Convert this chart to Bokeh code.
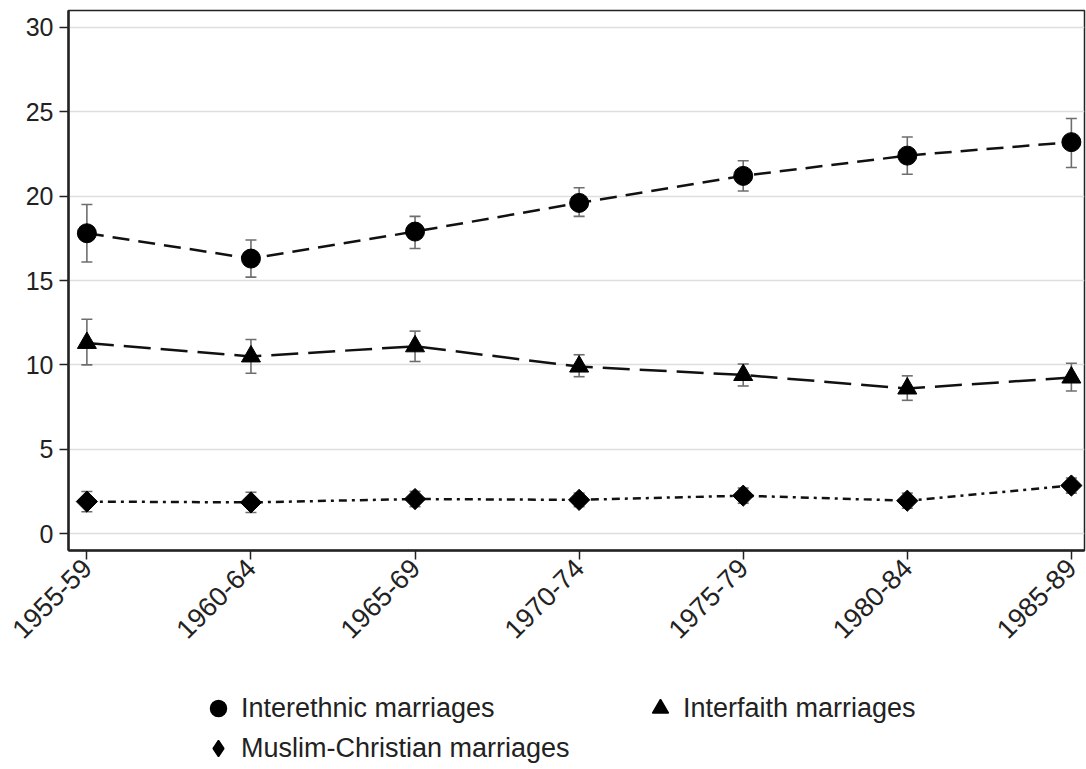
import math
from bokeh.plotting import figure
from bokeh.layouts import column
from bokeh.models import (Range1d, FixedTicker, Legend, LegendItem, ColumnDataSource)
from bokeh.embed import file_html
from bokeh.resources import INLINE

periods = ["1955-59", "1960-64", "1965-69", "1970-74", "1975-79", "1980-84", "1985-89"]

interethnic = [17.8, 16.3, 17.9, 19.6, 21.2, 22.4, 23.2]
interethnic_lo = [16.1, 15.2, 16.9, 18.8, 20.3, 21.3, 21.7]
interethnic_hi = [19.5, 17.4, 18.8, 20.5, 22.1, 23.5, 24.6]

interfaith = [11.3, 10.5, 11.1, 9.9, 9.4, 8.6, 9.25]
interfaith_lo = [10.0, 9.5, 10.2, 9.3, 8.75, 7.9, 8.45]
interfaith_hi = [12.7, 11.5, 12.0, 10.6, 10.05, 9.35, 10.1]

muslim_christian = [1.9, 1.85, 2.05, 2.0, 2.25, 1.95, 2.85]
muslim_christian_lo = [1.3, 1.25, 1.6, 1.6, 1.8, 1.5, 2.4]
muslim_christian_hi = [2.5, 2.45, 2.5, 2.4, 2.7, 2.4, 3.3]

y_ticks = [0, 5, 10, 15, 20, 25, 30]
labels = ["Interethnic marriages", "Interfaith marriages", "Muslim-Christian marriages"]

xs = list(range(len(periods)))
FONT = "Liberation Sans"

p = figure(width=1086, height=680, output_backend="svg", toolbar_location=None,
           x_range=Range1d(-0.112, len(periods) - 1 + 0.08),
           y_range=Range1d(-1.0, 31.0),
           min_border_left=68, min_border_top=10, min_border_right=2, min_border_bottom=130)

p.background_fill_color = "white"
p.border_fill_color = "white"
p.outline_line_color = "#222222"
p.outline_line_width = 1.5

p.xgrid.grid_line_color = None
p.ygrid.grid_line_color = "#dedede"
p.ygrid.grid_line_width = 1.5

p.yaxis.ticker = FixedTicker(ticks=y_ticks)
p.xaxis.ticker = FixedTicker(ticks=xs)
p.xaxis.major_label_overrides = {i: lab for i, lab in enumerate(periods)}
p.xaxis.major_label_orientation = math.pi / 4
for ax in (p.xaxis[0], p.yaxis[0]):
    ax.axis_line_color = "#222222"
    ax.axis_line_width = 2.5
    ax.major_tick_line_color = "#222222"
    ax.major_tick_line_width = 1.5
    ax.major_tick_out = 9
    ax.major_tick_in = 0
    ax.minor_tick_line_color = None
    ax.major_label_text_font = FONT
    ax.major_label_text_color = "#222222"
p.yaxis.major_label_text_font_size = "25px"
p.xaxis.major_label_text_font_size = "27px"
p.yaxis.major_label_standoff = 6
p.xaxis.major_label_standoff = 4

# (values, low, high, plot marker, size, dash, angle, legend marker)
series = [
    (interethnic, interethnic_lo, interethnic_hi, "circle", 19, "17 9", 0, "circle"),
    (interfaith, interfaith_lo, interfaith_hi, "triangle", 19, "27 10", 0, "triangle"),
    (muslim_christian, muslim_christian_lo, muslim_christian_hi, "square", 15, "8 5 3 5", math.pi / 4, "diamond"),
]

ERR = "#6e6e6e"

# legend strip below the chart (its frame is aligned with the chart's frame)
q = figure(width=1086, height=89, output_backend="svg", toolbar_location=None,
           x_axis_type=None, y_axis_type=None,
           x_range=Range1d(100, 101), y_range=Range1d(100, 101),
           min_border_left=68, min_border_right=2, min_border_top=0, min_border_bottom=0)
q.outline_line_color = None
q.background_fill_color = "white"
q.border_fill_color = "white"
q.xgrid.grid_line_color = None
q.ygrid.grid_line_color = None

items = []
for (vals, lo, hi, marker, size, dash, angle, lmarker), lab in zip(series, labels):
    src = ColumnDataSource(dict(x=xs, y=vals, lo=lo, hi=hi))
    p.segment(x0="x", y0="lo", x1="x", y1="hi", source=src, line_color=ERR, line_width=1.6)
    p.scatter(x="x", y="lo", source=src, marker="dash", size=11, line_color=ERR, line_width=1.6)
    p.scatter(x="x", y="hi", source=src, marker="dash", size=11, line_color=ERR, line_width=1.6)
    p.line(x="x", y="y", source=src, line_color="#111111", line_width=2.5, line_dash=dash)
    p.scatter(x="x", y="y", source=src, marker=marker, size=size, angle=angle,
              fill_color="#000000", line_color="#000000")
    # same series in the legend strip (outside its visible range; used only for legend swatches)
    r = q.scatter(x="x", y="y", source=src, marker=lmarker, size=size,
                  fill_color="#000000", line_color="#000000", line_width=1.5)
    items.append(LegendItem(label=lab, renderers=[r]))

legend = Legend(items=items, location=(128, 1), orientation="horizontal", ncols=2,
                label_text_font=FONT, label_text_font_size="27px", label_text_color="#222222",
                label_width=397, label_standoff=1, glyph_width=44, glyph_height=40,
                spacing=0, padding=0, margin=0, border_line_color=None,
                background_fill_alpha=0)
q.add_layout(legend, "center")

open("out.html", "w").write(file_html(column(p, q, spacing=0), INLINE))
